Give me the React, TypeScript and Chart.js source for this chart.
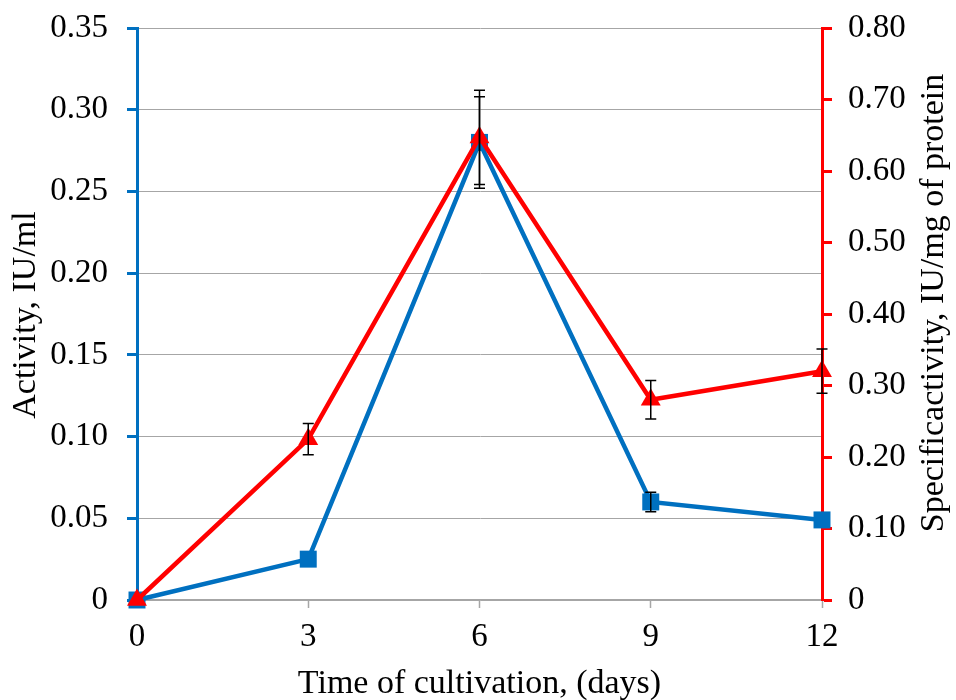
import React, { useEffect, useRef } from 'react';
import { Chart, registerables } from 'chart.js';

Chart.register(...registerables);

const days = [0, 3, 6, 9, 12];
const activity = [0, 0.025, 0.28, 0.06, 0.049];
const activityErr = [0, 0, 0.028, 0.006, 0];
const specificActivity = [0, 0.225, 0.647, 0.28, 0.32];
const specificErr = [0, 0.022, 0.066, 0.027, 0.031];

const xTitle = 'Time of cultivation, (days)';
const leftTitle = 'Activity, IU/ml';
const rightTitle = 'Specificactivity, IU/mg of protein';

const FONT = "'Liberation Serif', 'Times New Roman', serif";
const BLUE = '#0070C0';
const RED = '#FF0000';
const GRID = '#A6A6A6';
const TICK_SIZE = 33;
const TITLE_SIZE = 34;

const fmt = (v: number) => (v === 0 ? '0' : v.toFixed(2));

const errorBarPlugin = {
  id: 'errorBars',
  afterDatasetsDraw(chart: any) {
    const ctx = chart.ctx;
    ctx.save();
    ctx.strokeStyle = '#000';
    ctx.lineWidth = 1.5;
    chart.data.datasets.forEach((ds: any, i: number) => {
      const meta = chart.getDatasetMeta(i);
      const scale = chart.scales[ds.yAxisID];
      const errs: number[] = ds.errors || [];
      meta.data.forEach((pt: any, j: number) => {
        const e = errs[j];
        if (!e) return;
        const v = ds.data[j].y;
        const x = pt.x;
        const yTop = scale.getPixelForValue(v + e);
        const yBot = scale.getPixelForValue(v - e);
        ctx.beginPath();
        ctx.moveTo(x, yTop);
        ctx.lineTo(x, yBot);
        ctx.moveTo(x - 5.5, yTop);
        ctx.lineTo(x + 5.5, yTop);
        ctx.moveTo(x - 5.5, yBot);
        ctx.lineTo(x + 5.5, yBot);
        ctx.stroke();
      });
    });
    ctx.restore();
  },
};

const titlesPlugin = {
  id: 'titles',
  afterDraw(chart: any) {
    const ctx = chart.ctx;
    const area = chart.chartArea;
    ctx.save();
    ctx.fillStyle = '#000';
    ctx.font = `${TITLE_SIZE}px ${FONT}`;
    ctx.textAlign = 'center';
    ctx.textBaseline = 'alphabetic';
    ctx.fillText(xTitle, (area.left + area.right) / 2, 693);
    ctx.save();
    ctx.translate(35, 315);
    ctx.rotate(-Math.PI / 2);
    ctx.fillText(leftTitle, 0, 0);
    ctx.restore();
    ctx.save();
    ctx.translate(943, 303);
    ctx.rotate(-Math.PI / 2);
    ctx.fillText(rightTitle, 0, 0);
    ctx.restore();
    ctx.restore();
  },
};

const fitY = (w: number) => (s: any) => {
  s.width = w;
  s.paddingTop = 0;
  s.paddingBottom = 0;
};

export default function App() {
  const ref = useRef<HTMLCanvasElement | null>(null);

  useEffect(() => {
    if (!ref.current) return;
    Chart.defaults.font.family = FONT;
    const chart = new Chart(ref.current, {
      type: 'line',
      data: {
        datasets: [
          {
            label: 'Activity',
            data: days.map((d, i) => ({ x: d, y: activity[i] })),
            errors: activityErr,
            yAxisID: 'y',
            borderColor: BLUE,
            backgroundColor: BLUE,
            borderWidth: 4.5,
            pointStyle: 'rect',
            pointRadius: 12,
            pointBorderWidth: 0,
            pointBackgroundColor: BLUE,
            tension: 0,
            clip: false,
            order: 2,
          } as any,
          {
            label: 'Specific activity',
            data: days.map((d, i) => ({ x: d, y: specificActivity[i] })),
            errors: specificErr,
            yAxisID: 'y1',
            borderColor: RED,
            backgroundColor: RED,
            borderWidth: 4.5,
            pointStyle: 'triangle',
            pointRadius: 11.5,
            pointBorderWidth: 0,
            pointBackgroundColor: RED,
            tension: 0,
            clip: false,
            order: 1,
          } as any,
        ],
      },
      options: {
        responsive: false,
        animation: false,
        devicePixelRatio: 1,
        layout: { padding: { top: 28, left: 0, right: 0, bottom: 0 } },
        plugins: {
          legend: { display: false },
          tooltip: { enabled: false },
        },
        scales: {
          x: {
            type: 'linear',
            min: 0,
            max: 12,
            offset: false,
            ticks: {
              stepSize: 3,
              color: '#000',
              font: { size: TICK_SIZE, family: FONT },
              padding: 10,
              maxRotation: 0,
            },
            grid: {
              drawOnChartArea: false,
              tickLength: 8,
              tickColor: GRID,
              tickWidth: 1.5,
              color: GRID,
            },
            border: { color: GRID, width: 1.5 },
            afterFit: (s: any) => {
              s.height = 100;
              s.paddingLeft = 0;
              s.paddingRight = 0;
            },
          },
          y: {
            type: 'linear',
            position: 'left',
            min: 0,
            max: 0.35,
            ticks: {
              stepSize: 0.05,
              color: '#000',
              font: { size: TICK_SIZE, family: FONT },
              padding: 19,
              callback: (v: any) => fmt(Number(v)),
            },
            grid: {
              color: GRID,
              lineWidth: 1,
              tickLength: 10,
              tickColor: BLUE,
              tickWidth: 3,
            },
            border: { color: BLUE, width: 3 },
            afterFit: fitY(137),
          },
          y1: {
            type: 'linear',
            position: 'right',
            min: 0,
            max: 0.8,
            ticks: {
              stepSize: 0.1,
              color: '#000',
              font: { size: TICK_SIZE, family: FONT },
              padding: 16,
              callback: (v: any) => fmt(Number(v)),
            },
            grid: {
              drawOnChartArea: false,
              tickLength: 10,
              tickColor: RED,
              tickWidth: 3,
              color: RED,
            },
            border: { color: RED, width: 3 },
            afterFit: fitY(134),
          },
        },
      } as any,
      plugins: [errorBarPlugin, titlesPlugin],
    });
    return () => chart.destroy();
  }, []);

  return (
    <div style={{ position: 'absolute', left: 0, top: 0, width: 956, height: 700, background: '#fff' }}>
      <canvas ref={ref} width={956} height={700} />
    </div>
  );
}
